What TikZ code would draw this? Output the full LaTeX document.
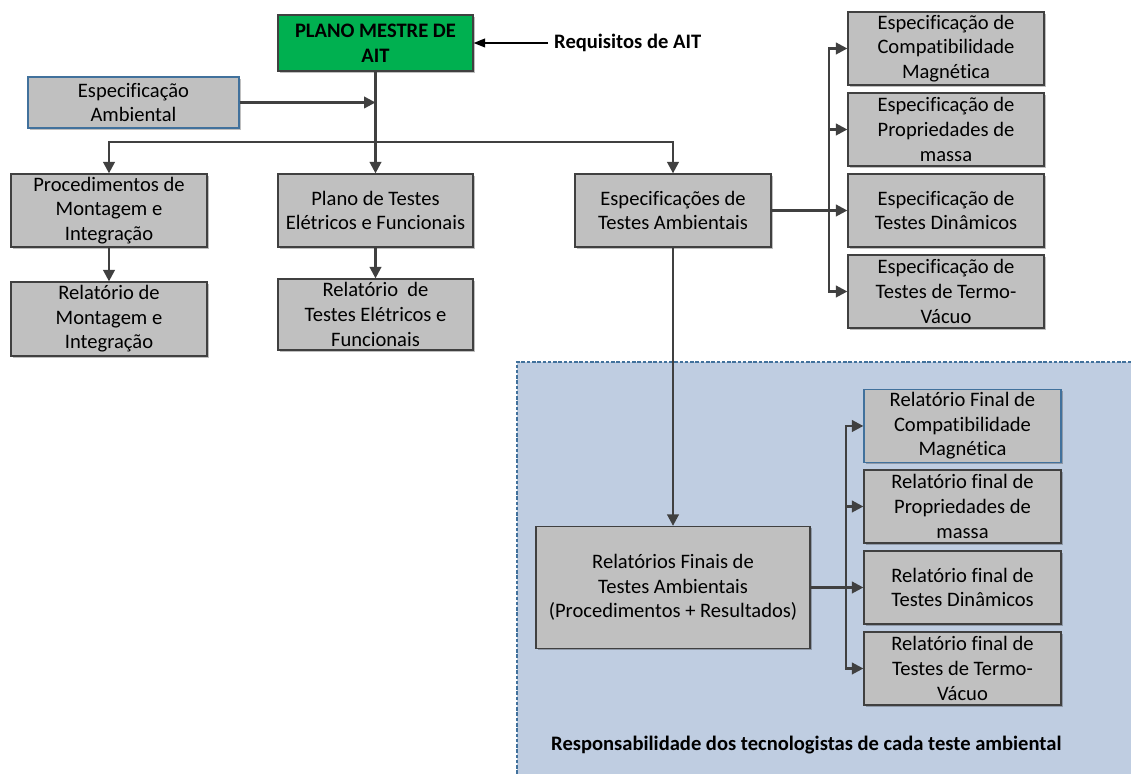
\documentclass[tikz,border=0pt]{standalone}
\usepackage{fontspec}
\setmainfont{Carlito}[Ligatures=NoCommon]
\usetikzlibrary{arrows.meta,shadows}
\definecolor{boxgray}{RGB}{192,192,192}
\definecolor{linegray}{RGB}{64,64,64}
\definecolor{aitgreen}{RGB}{0,176,80}
\definecolor{areablue}{RGB}{191,205,225}
\definecolor{edgeblue}{RGB}{65,113,156}
\newcommand{\boxfont}{\fontsize{11.7}{14}\selectfont}

\begin{document}
\begin{tikzpicture}[
  every node/.style={font=\boxfont},
  box/.style={draw=linegray, fill=boxgray, line width=0.7pt, align=center,
    minimum width=3.92cm, minimum height=1.46cm, inner sep=0pt,
    drop shadow={shadow xshift=0.9pt, shadow yshift=-0.9pt, fill=black, opacity=0.25}},
  link/.style={draw=linegray, line width=1.4pt, -{Triangle[length=6.5pt,width=6.5pt]}},
  bold/.style={font=\boxfont\bfseries},
]
\useasboundingbox (0,0) rectangle (22.62,15.48);

% area of the test engineers
\fill[areablue] (10.34,0) rectangle (22.62,8.24);
\draw[edgeblue, line width=0.6pt, dash pattern=on 2pt off 1pt] (10.34,0) |- (22.62,8.24);

% top of the tree
\node[box, bold, fill=aitgreen, minimum width=3.9cm, minimum height=1.12cm]
  (mestre) at (7.51,14.62) {PLANO MESTRE DE\\AIT};
\node[bold, anchor=west] (req) at (10.96,14.62) {Requisitos de AIT};
\node[box, draw=edgeblue, minimum width=4.22cm, minimum height=1.02cm]
  (amb) at (2.67,13.43) {Especificação\\Ambiental};

% second level
\node[box] (proc) at (2.18,11.27) {Procedimentos de\\Montagem e\\Integração};
\node[box, minimum width=3.9cm] (plano) at (7.51,11.27) {Plano de Testes\\Elétricos e Funcionais};
\node[box] (esp) at (13.46,11.27) {Especificações de\\Testes Ambientais};

\node[box, minimum height=1.48cm] (relmont) at (2.18,9.10) {Relatório de\\Montagem e\\Integração};
\node[box, minimum width=3.9cm, minimum height=1.42cm]
  (relelet) at (7.51,9.19) {Relatório\ \ de\\Testes Elétricos e\\Funcionais};

% environmental test specifications
\node[box] (espmag) at (18.92,14.51) {Especificação de\\Compatibilidade\\Magnética};
\node[box] (espmassa) at (18.92,12.89) {Especificação de\\Propriedades de\\massa};
\node[box] (espdin) at (18.92,11.27) {Especificação de\\Testes Dinâmicos};
\node[box] (esptv) at (18.92,9.65) {Especificação de\\Testes de Termo-\\Vácuo};

% final reports
\node[box, minimum width=5.48cm, minimum height=2.44cm]
  (finais) at (13.46,3.73) {Relatórios Finais de\\Testes Ambientais\\(Procedimentos + Resultados)};
\node[box, draw=edgeblue, minimum width=3.94cm] (relmag) at (19.25,6.96) {Relatório Final de\\Compatibilidade\\Magnética};
\node[box, minimum width=3.94cm] (relmassa) at (19.25,5.35) {Relatório final de\\Propriedades de\\massa};
\node[box, minimum width=3.94cm] (reldin) at (19.25,3.73) {Relatório final de\\Testes Dinâmicos};
\node[box, minimum width=3.94cm] (reltv) at (19.25,2.11) {Relatório final de\\Testes de Termo-\\Vácuo};

\node[bold, anchor=west] (resp) at (10.9,0.58) {Responsabilidade dos tecnologistas de cada teste ambiental};

% connectors
\coordinate (split) at (7.51,12.64);
\coordinate (espbus) at (16.58,11.27);
\coordinate (relbus) at (16.92,3.73);

\draw[black, line width=0.7pt, -{Triangle[length=6.5pt,width=5pt]}] (req.west) -- (mestre.east);
\draw[link] (mestre.south) -- (plano.north);
\draw[link] (amb.east) -- (amb.east -| mestre.south);
\draw[link] (split) -| (proc.north);
\draw[link] (split) -| (esp.north);
\draw[link] (proc.south) -- (relmont.north);
\draw[link] (plano.south) -- (relelet.north);
\foreach \n in {espmag,espmassa,espdin,esptv}
  \draw[link] (esp.east) -- (espbus) |- (\n.west);
\draw[link] (esp.south) -- (finais.north);
\foreach \n in {relmag,relmassa,reldin,reltv}
  \draw[link] (finais.east) -- (relbus) |- (\n.west);
\end{tikzpicture}
\end{document}
